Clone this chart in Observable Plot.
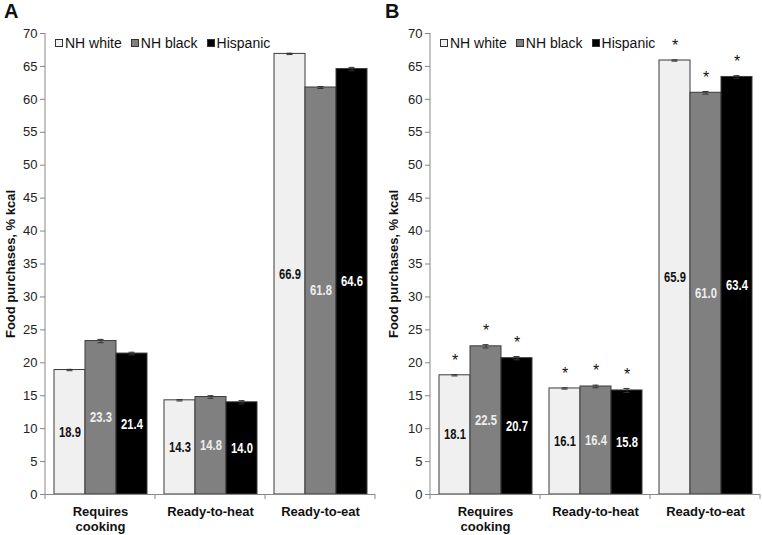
<!DOCTYPE html>
<html>
<head>
<meta charset="utf-8">
<script src="https://cdn.jsdelivr.net/npm/d3@7"></script>
<script src="https://cdn.jsdelivr.net/npm/@observablehq/plot@0.6"></script>
<style>
  body { margin: 0; background: white; font-family: "Liberation Sans", Arial, sans-serif; }
  #wrap { position: relative; width: 762px; height: 535px; overflow: hidden; }
  .panel { position: absolute; top: 0; width: 381px; height: 535px; }
  .letter { position: absolute; top: 0px; left: 4px; font-weight: bold; font-size: 20px; color: #111; }
  .legend { position: absolute; top: 35px; display: flex; font-size: 14px; color: #111; white-space: nowrap; }
  .legend .item { display: flex; align-items: center; margin-right: 9px; }
  .legend .sw { width: 6px; height: 6px; border: 1px solid #333; margin-right: 2px; }
</style>
</head>
<body>
<div id="wrap"></div>
<script>
// ---- data ----
const categories = ["Requires cooking", "Ready-to-heat", "Ready-to-eat"];
const groups = ["NH white", "NH black", "Hispanic"];
const barFills = ["#f0f0f0", "#808080", "#000000"];
const labelFills = ["#111111", "#eeeeee", "#ffffff"];
const yTicks = [0, 5, 10, 15, 20, 25, 30, 35, 40, 45, 50, 55, 60, 65, 70];
const yLabel = "Food purchases, % kcal";

// Panel A
const aWhite = [18.9, 14.3, 66.9];
const aBlack = [23.3, 14.8, 61.8];
const aHispanic = [21.4, 14.0, 64.6];
const aWhiteSE = [0.1, 0.1, 0.1];
const aBlackSE = [0.25, 0.2, 0.15];
const aHispanicSE = [0.2, 0.25, 0.25];

// Panel B
const bWhite = [18.1, 16.1, 65.9];
const bBlack = [22.5, 16.4, 61.0];
const bHispanic = [20.7, 15.8, 63.4];
const bWhiteSE = [0.1, 0.1, 0.1];
const bBlackSE = [0.25, 0.2, 0.2];
const bHispanicSE = [0.25, 0.3, 0.2];
const bMarkers = ["*", "*", "*"];

function rows(seriesList, seList, markers) {
  const out = [];
  categories.forEach((cat, ci) => {
    groups.forEach((g, gi) => {
      out.push({cat, group: g, gi, value: seriesList[gi][ci], se: seList[gi][ci], mark: markers ? markers[gi] : ""});
    });
  });
  return out;
}

const dataA = rows([aWhite, aBlack, aHispanic], [aWhiteSE, aBlackSE, aHispanicSE], null);
const dataB = rows([bWhite, bBlack, bHispanic], [bWhiteSE, bBlackSE, bHispanicSE], bMarkers);

function makePanel(data, opts) {
  const marks = [
    Plot.axisY({ticks: yTicks, tickSize: 5, tickPadding: 3, stroke: "#888", fill: "#222", fontSize: 13,
      label: yLabel, labelAnchor: "center", labelOffset: opts.labelOffset, labelArrow: "none"}),
    Plot.axisFx({anchor: "bottom", tickSize: 0, tickPadding: 11, fontSize: 13, fontWeight: "bold", fill: "#111",
      lineHeight: 1.15, label: null, tickFormat: d => d.replace(" ", "\n")}),
    Plot.barY(data, {fx: "cat", x: "group", y: "value", fill: d => barFills[d.gi], stroke: "#3a3a3a", strokeWidth: 1}),
    Plot.ruleY([0], {stroke: "#888"}),
    Plot.ruleX(data, {fx: "cat", x: "group", y1: d => d.value - d.se, y2: d => d.value + d.se, stroke: "#333", strokeWidth: 1}),
    Plot.tickY(data, {fx: "cat", x: "group", y: d => d.value + d.se, stroke: "#333", insetLeft: 12.5, insetRight: 12.5}),
    Plot.tickY(data, {fx: "cat", x: "group", y: d => d.value - d.se, stroke: "#333", insetLeft: 12.5, insetRight: 12.5}),
    Plot.text(data, {fx: "cat", x: "group", y: d => d.value / 2, text: d => d.value.toFixed(1),
      fill: d => labelFills[d.gi], fontWeight: "bold", fontSize: 14,
      fontFamily: "'Liberation Sans', Arial, sans-serif"})
  ];
  if (opts.stars) {
    marks.push(Plot.text(data, {fx: "cat", x: "group", y: d => d.value + d.se, text: "mark",
      dy: -14, fontSize: 16, fill: "#111"}));
  }
  const svg = Plot.plot({
    width: 381, height: 535,
    marginTop: 33, marginBottom: 41, marginLeft: opts.marginLeft, marginRight: opts.marginRight,
    style: {fontFamily: "'Liberation Sans', Arial, sans-serif", fontSize: "13px", color: "#222", background: "white", overflow: "visible"},
    fx: {domain: categories, padding: 0},
    x: {domain: groups, paddingInner: 0, paddingOuter: 0.24, axis: null},
    y: {domain: [0, 70]},
    marks
  });
  d3.select(svg).selectAll('g[aria-label="y-axis label"] text').attr("font-weight", "bold").attr("fill", "#111");
  const fx = svg.scale("fx"), y = svg.scale("y");
  const y0 = y.apply(0), yTop = y.apply(70);
  const bounds = categories.map(c => fx.apply(c));
  bounds.push(fx.apply(categories[categories.length - 1]) + fx.bandwidth);
  const g = d3.select(svg).append("g").attr("stroke", "#888");
  g.append("line").attr("x1", bounds[0]).attr("x2", bounds[0]).attr("y1", y0).attr("y2", yTop);
  bounds.forEach(b => g.append("line").attr("x1", b).attr("x2", b).attr("y1", y0).attr("y2", y0 + 5));
  return svg;
}

function condenseLabels(svg) {
  d3.select(svg).selectAll('g[aria-label="text"] text').each(function () {
    if (/^\d+\.\d$/.test(this.textContent)) {
      const len = this.getComputedTextLength();
      this.setAttribute("textLength", (len * 0.8).toFixed(1));
      this.setAttribute("lengthAdjust", "spacingAndGlyphs");
    }
  });
}

function addPanel(left, letter, data, opts) {
  const div = document.createElement("div");
  div.className = "panel";
  div.style.left = left + "px";
  const svg = makePanel(data, opts);
  div.appendChild(svg);
  const l = document.createElement("div");
  l.className = "letter";
  l.textContent = letter;
  div.appendChild(l);
  const lg = document.createElement("div");
  lg.className = "legend";
  lg.style.left = (opts.marginLeft + 10) + "px";
  groups.forEach((gname, i) => {
    const it = document.createElement("div");
    it.className = "item";
    const sw = document.createElement("span");
    sw.className = "sw";
    sw.style.background = barFills[i];
    it.appendChild(sw);
    const t = document.createElement("span");
    t.textContent = gname;
    it.appendChild(t);
    lg.appendChild(it);
  });
  div.appendChild(lg);
  document.getElementById("wrap").appendChild(div);
  condenseLabels(svg);
}

addPanel(0, "A", dataA, {marginLeft: 45, marginRight: 6, labelOffset: 40, stars: false});
addPanel(381, "B", dataB, {marginLeft: 49, marginRight: 2, labelOffset: 42, stars: true});
</script>
</body>
</html>
